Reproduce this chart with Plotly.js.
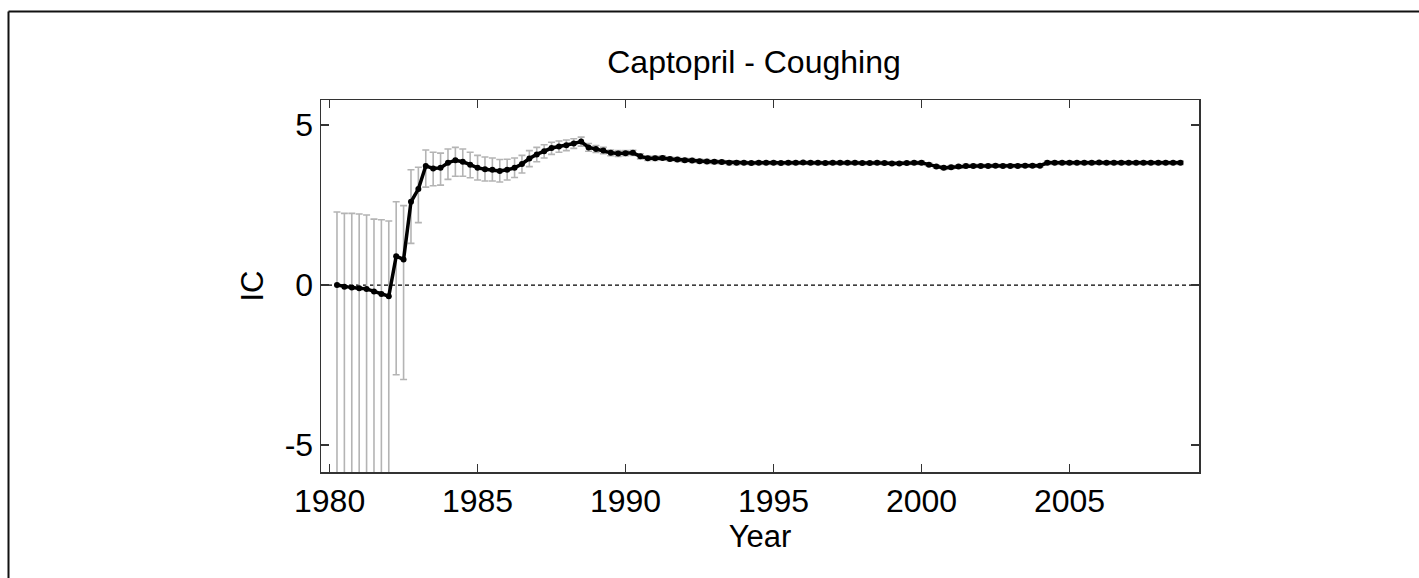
<!DOCTYPE html>
<html>
<head>
<meta charset="utf-8">
<script src="https://cdn.plot.ly/plotly-3.0.1.min.js"></script>
<style>html,body{margin:0;padding:0;background:#fff;}#chart{width:1419px;height:578px;}</style>
</head>
<body>
<div id="chart"></div>
<script>
const years = [
1980.25,1980.5,1980.75,1981.0,1981.25,1981.5,1981.75,1982.0,1982.25,1982.5,1982.75,1983.0,
1983.25,1983.5,1983.75,1984.0,1984.25,1984.5,1984.75,1985.0,1985.25,1985.5,1985.75,1986.0,
1986.25,1986.5,1986.75,1987.0,1987.25,1987.5,1987.75,1988.0,1988.25,1988.5,1988.75,1989.0,
1989.25,1989.5,1989.75,1990.0,1990.25,1990.5,1990.75,1991.0,1991.25,1991.5,1991.75,1992.0,
1992.25,1992.5,1992.75,1993.0,1993.25,1993.5,1993.75,1994.0,1994.25,1994.5,1994.75,1995.0,
1995.25,1995.5,1995.75,1996.0,1996.25,1996.5,1996.75,1997.0,1997.25,1997.5,1997.75,1998.0,
1998.25,1998.5,1998.75,1999.0,1999.25,1999.5,1999.75,2000.0,2000.25,2000.5,2000.75,2001.0,
2001.25,2001.5,2001.75,2002.0,2002.25,2002.5,2002.75,2003.0,2003.25,2003.5,2003.75,2004.0,
2004.25,2004.5,2004.75,2005.0,2005.25,2005.5,2005.75,2006.0,2006.25,2006.5,2006.75,2007.0,
2007.25,2007.5,2007.75,2008.0,2008.25,2008.5,2008.75
];
const ic = [
0.00,-0.05,-0.08,-0.10,-0.12,-0.20,-0.28,-0.35,0.90,0.80,2.60,3.00,
3.72,3.64,3.66,3.82,3.90,3.85,3.76,3.66,3.62,3.60,3.56,3.60,
3.66,3.78,3.95,4.08,4.18,4.28,4.33,4.37,4.42,4.48,4.30,4.25,
4.20,4.13,4.11,4.12,4.13,4.02,3.96,3.96,3.97,3.94,3.92,3.90,
3.89,3.87,3.86,3.85,3.84,3.82,3.82,3.82,3.81,3.82,3.82,3.82,
3.81,3.82,3.82,3.83,3.82,3.82,3.81,3.82,3.82,3.82,3.82,3.81,
3.81,3.82,3.81,3.80,3.80,3.81,3.82,3.82,3.76,3.70,3.66,3.68,
3.70,3.72,3.72,3.72,3.72,3.73,3.72,3.72,3.72,3.73,3.73,3.73,
3.82,3.82,3.82,3.82,3.82,3.82,3.82,3.83,3.82,3.82,3.82,3.82,
3.82,3.82,3.82,3.82,3.82,3.82,3.82
];
const icUpper = [
2.28,2.24,2.24,2.22,2.19,2.06,2.04,2.00,2.60,2.48,3.60,3.68,
4.22,4.15,4.12,4.25,4.30,4.25,4.15,4.05,4.00,3.97,3.92,3.93,
3.97,4.05,4.20,4.30,4.38,4.46,4.50,4.53,4.57,4.62,4.42,4.36,
4.30,4.22,4.20,4.20,4.21,4.10,4.03,4.03,4.04,4.00,3.98,3.96,
3.95,3.93,3.92,3.91,3.90,3.88,3.88,3.87,3.86,3.87,3.87,3.87,
3.86,3.87,3.87,3.88,3.87,3.87,3.86,3.87,3.87,3.87,3.87,3.86,
3.86,3.87,3.86,3.85,3.85,3.86,3.87,3.87,3.81,3.75,3.71,3.73,
3.75,3.77,3.77,3.77,3.77,3.78,3.77,3.77,3.77,3.78,3.78,3.78,
3.87,3.87,3.87,3.87,3.87,3.87,3.87,3.88,3.87,3.87,3.87,3.87,
3.87,3.87,3.87,3.87,3.87,3.87,3.87
];
const icLower = [
-7.5,-7.5,-7.5,-7.5,-7.5,-7.5,-7.5,-7.5,-2.80,-2.95,1.30,1.95,
3.06,3.10,3.12,3.30,3.40,3.40,3.35,3.28,3.25,3.25,3.22,3.28,
3.36,3.50,3.70,3.85,3.97,4.08,4.15,4.20,4.27,4.34,4.18,4.14,
4.10,4.04,4.02,4.04,4.05,3.94,3.89,3.89,3.90,3.88,3.86,3.84,
3.83,3.81,3.80,3.79,3.78,3.76,3.76,3.77,3.76,3.77,3.77,3.77,
3.76,3.77,3.77,3.78,3.77,3.77,3.76,3.77,3.77,3.77,3.77,3.76,
3.76,3.77,3.76,3.75,3.75,3.76,3.77,3.77,3.71,3.65,3.61,3.63,
3.65,3.67,3.67,3.67,3.67,3.68,3.67,3.67,3.67,3.68,3.68,3.68,
3.77,3.77,3.77,3.77,3.77,3.77,3.77,3.78,3.77,3.77,3.77,3.77,
3.77,3.77,3.77,3.77,3.77,3.77,3.77
];
const xTickVals = [1980,1985,1990,1995,2000,2005];
const xTickText = ['1980','1985','1990','1995','2000','2005'];
const yTickVals = [-5,0,5];
const yTickText = ['-5','0','5'];

const errPlus = ic.map((v,i)=>icUpper[i]-v);
const errMinus = ic.map((v,i)=>v-icLower[i]);

const FONT = 'Liberation Sans, Arial, sans-serif';
const L=321, R=1199, T=100, B=472, W=1419, H=578;
const px = x => (x - L)/(R - L);
const py = y => (B - y)/(B - T);

const traces = [
  {
    x: years, y: ic, type:'scatter', mode:'markers',
    marker:{size:1, color:'rgba(0,0,0,0)'},
    error_y:{type:'data', symmetric:false, array:errPlus, arrayminus:errMinus,
             color:'#b4b4b4', thickness:1.6, width:3.5},
    hoverinfo:'skip', showlegend:false
  },
  {
    x: years, y: ic, type:'scatter', mode:'lines+markers',
    line:{color:'#000', width:3.5},
    marker:{color:'#000', size:6},
    showlegend:false
  }
];

const axisCommon = {
  showgrid:false, zeroline:false, showline:true, linecolor:'#333', linewidth:1.5,
  mirror:'ticks', ticks:'inside', ticklen:8, tickwidth:1.5, tickcolor:'#333',
  tickfont:{family:FONT, size:32, color:'#000'}
};

const layout = {
  width:W, height:H,
  margin:{l:L, r:W-R, t:T, b:H-B, pad:0},
  paper_bgcolor:'#fff', plot_bgcolor:'#fff',
  font:{family:FONT, color:'#000'},
  title:{text:'Captopril - Coughing', font:{family:FONT, size:32, color:'#000'},
         x:px(754), xref:'paper', xanchor:'center', y:1-62/H, yref:'container', yanchor:'middle'},
  xaxis:Object.assign({}, axisCommon, {
    range:[1979.71, 2009.375], tickvals:xTickVals, ticktext:xTickText,
    title:{text:'Year', font:{family:FONT, size:31, color:'#000'}, standoff:6}
  }),
  yaxis:Object.assign({}, axisCommon, {
    range:[-5.84, 5.78], tickvals:yTickVals, ticktext:yTickText,
    title:{text:'IC', font:{family:FONT, size:31, color:'#000'}, standoff:12}
  }),
  shapes:[
    {type:'line', xref:'paper', yref:'y', x0:0, x1:1, y0:0, y1:0,
     line:{color:'#000', width:1.2, dash:'4px,3px'}, layer:'below'},
    {type:'line', xref:'paper', yref:'paper', x0:px(8.5), x1:px(8.5), y0:py(11.5), y1:py(600),
     line:{color:'#111', width:2}},
    {type:'line', xref:'paper', yref:'paper', x0:px(8.5), x1:px(1440), y0:py(11.5), y1:py(11.5),
     line:{color:'#111', width:2}}
  ]
};

Plotly.newPlot('chart', traces, layout, {displayModeBar:false, staticPlot:true});
</script>
</body>
</html>
